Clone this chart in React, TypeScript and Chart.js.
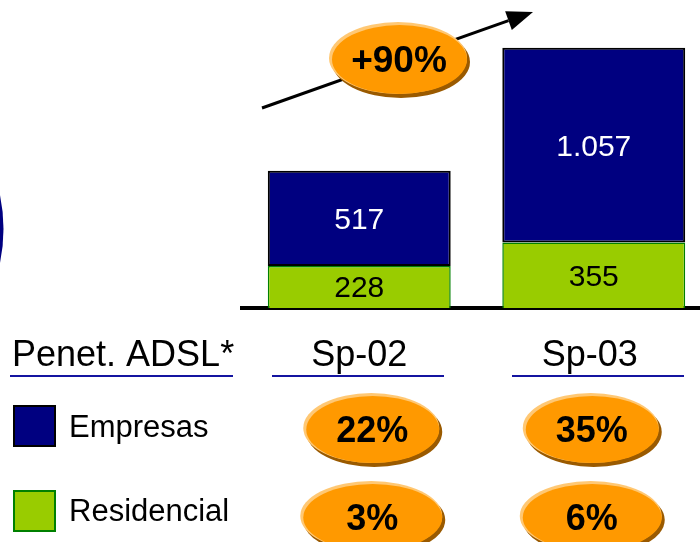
import { useEffect, useRef } from 'react';
import { Chart, registerables } from 'chart.js';

Chart.register(...registerables);

// ADSL lines by segment (thousands), stacked per period
const periods = ['Sp-02', 'Sp-03'];
const residencial = [228, 355];
const empresas = [517, 1057];

// ADSL penetration by segment (%)
const penetEmpresas = [22, 35];
const penetResidencial = [3, 6];

const penetTitle = 'Penet. ADSL*';
const seriesNames = ['Empresas', 'Residencial'];

const NAVY = '#000080';
const LIME = '#99CC00';
const LIME_EDGE = '#008000';
const ORANGE = '#FF9900';
const RULE = '#1414A0';
const FONT = "'Liberation Sans', Arial, Helvetica, sans-serif";

const fmtThousands = (v: number) =>
  String(v).replace(/\B(?=(\d{3})+(?!\d))/g, '.');

function ellipsePath(ctx: CanvasRenderingContext2D, cx: number, cy: number, rx: number, ry: number) {
  ctx.beginPath();
  ctx.ellipse(cx, cy, rx, ry, 0, 0, Math.PI * 2);
  ctx.closePath();
}

// Orange bevelled oval with a bold label
function drawBadge(
  ctx: CanvasRenderingContext2D,
  cx: number,
  cy: number,
  rx: number,
  ry: number,
  text: string,
  size: number
) {
  ctx.save();
  ctx.fillStyle = '#9A5A00';
  ellipsePath(ctx, cx + 2, cy + 3, rx, ry);
  ctx.fill();
  ctx.fillStyle = '#FFC874';
  ellipsePath(ctx, cx - 1, cy - 1, rx, ry);
  ctx.fill();
  ctx.fillStyle = ORANGE;
  ellipsePath(ctx, cx + 0.5, cy + 0.5, rx - 1.5, ry - 1.5);
  ctx.fill();
  ctx.fillStyle = '#000';
  ctx.font = `bold ${size}px ${FONT}`;
  ctx.textAlign = 'center';
  ctx.textBaseline = 'alphabetic';
  ctx.fillText(text, cx, cy + size * 0.36);
  ctx.restore();
}

const overlayPlugin = {
  id: 'adslOverlay',
  afterDatasetsDraw(chart: any) {
    const ctx: CanvasRenderingContext2D = chart.ctx;
    // values inside each stacked segment
    chart.data.datasets.forEach((ds: any, di: number) => {
      const meta = chart.getDatasetMeta(di);
      meta.data.forEach((el: any, i: number) => {
        const { x, y, base } = el.getProps(['x', 'y', 'base'], true);
        const cy = (y + base) / 2;
        ctx.save();
        ctx.font = `30px ${FONT}`;
        ctx.textAlign = 'center';
        ctx.textBaseline = 'alphabetic';
        ctx.fillStyle = ds.labelColor;
        ctx.fillText(fmtThousands(ds.data[i]), x, cy + 10.5);
        ctx.restore();
      });
    });
  },
  afterDraw(chart: any) {
    const ctx: CanvasRenderingContext2D = chart.ctx;
    const xs = chart.scales.x;
    const colX = periods.map((_, i) => xs.getPixelForValue(i));

    ctx.save();

    // partial navy shape at the left edge
    ctx.fillStyle = NAVY;
    ctx.beginPath();
    ctx.moveTo(0, 195);
    ctx.quadraticCurveTo(7, 229, 0, 263);
    ctx.closePath();
    ctx.fill();

    // growth arrow
    const x0 = 262, y0 = 108, x1 = 533, y1 = 12;
    const ang = Math.atan2(y1 - y0, x1 - x0);
    const headLen = 26, headW = 10;
    const bx = x1 - headLen * Math.cos(ang);
    const by = y1 - headLen * Math.sin(ang);
    ctx.strokeStyle = '#000';
    ctx.lineWidth = 3;
    ctx.beginPath();
    ctx.moveTo(x0, y0);
    ctx.lineTo(bx, by);
    ctx.stroke();
    ctx.fillStyle = '#000';
    ctx.beginPath();
    ctx.moveTo(x1, y1);
    ctx.lineTo(bx + headW * Math.sin(ang), by - headW * Math.cos(ang));
    ctx.lineTo(bx - headW * Math.sin(ang), by + headW * Math.cos(ang));
    ctx.closePath();
    ctx.fill();

    const totalA = residencial[0] + empresas[0];
    const totalB = residencial[1] + empresas[1];
    const growth = Math.round((totalB / totalA - 1) * 100);
    drawBadge(ctx, 399, 59, 69, 36, `+${growth}%`, 37);

    // table header
    ctx.fillStyle = '#000';
    ctx.font = `36px ${FONT}`;
    ctx.textBaseline = 'alphabetic';
    ctx.textAlign = 'left';
    ctx.fillText(penetTitle, 12, 366);
    ctx.textAlign = 'center';
    periods.forEach((p, i) => ctx.fillText(p, colX[i] - (i === 1 ? 4 : 0), 366));

    ctx.strokeStyle = RULE;
    ctx.lineWidth = 2;
    const rules: [number, number][] = [[10, 233], [272, 444], [512, 684]];
    rules.forEach(([a, b]) => {
      ctx.beginPath();
      ctx.moveTo(a, 376);
      ctx.lineTo(b, 376);
      ctx.stroke();
    });

    // legend rows
    const swatches = [
      { fill: NAVY, edge: '#000', y: 405, base: 437 },
      { fill: LIME, edge: LIME_EDGE, y: 490, base: 521 },
    ];
    swatches.forEach((s, i) => {
      ctx.fillStyle = s.fill;
      ctx.fillRect(13, s.y, 43, 42);
      ctx.strokeStyle = s.edge;
      ctx.lineWidth = 2;
      ctx.strokeRect(14, s.y + 1, 41, 40);
      ctx.fillStyle = '#000';
      ctx.font = `31px ${FONT}`;
      ctx.textAlign = 'left';
      ctx.fillText(seriesNames[i], 69, s.base);
    });

    // penetration ovals
    const nudge = [13, -2];
    penetEmpresas.forEach((v, i) => {
      drawBadge(ctx, colX[i] + nudge[i], 429, 68, 35, `${v}%`, 36);
    });
    penetResidencial.forEach((v, i) => {
      drawBadge(ctx, colX[i] + nudge[i], 517, 71, 35, `${v}%`, 36);
    });

    ctx.restore();
  },
};

export default function App() {
  const ref = useRef<HTMLCanvasElement | null>(null);

  useEffect(() => {
    if (!ref.current) return;
    const chart = new Chart(ref.current, {
      type: 'bar',
      data: {
        labels: periods,
        datasets: [
          {
            label: seriesNames[1],
            data: residencial,
            backgroundColor: LIME,
            borderColor: LIME_EDGE,
            borderWidth: 1.5,
            borderSkipped: 'bottom',
            labelColor: '#000',
          } as any,
          {
            label: seriesNames[0],
            data: empresas,
            backgroundColor: NAVY,
            borderColor: '#000',
            borderWidth: 2,
            borderSkipped: false,
            labelColor: '#fff',
          } as any,
        ],
      },
      options: {
        responsive: false,
        animation: false,
        events: [],
        datasets: {
          bar: { categoryPercentage: 1, barPercentage: 0.78 },
        },
        layout: { padding: { left: 242, right: 9, top: 13, bottom: 234 } },
        plugins: {
          legend: { display: false },
          tooltip: { enabled: false },
        },
        scales: {
          x: {
            stacked: true,
            z: 1,
            grid: { display: false, drawTicks: false },
            border: { display: true, color: '#000', width: 4 },
            ticks: { display: false },
          },
          y: {
            stacked: true,
            display: false,
            min: 0,
            max: 1600,
          },
        },
      },
      plugins: [overlayPlugin],
    });
    return () => chart.destroy();
  }, []);

  return (
    <div
      style={{
        position: 'fixed',
        left: 0,
        top: 0,
        width: 700,
        height: 542,
        overflow: 'hidden',
        background: '#fff',
      }}
    >
      <canvas ref={ref} width={720} height={542} style={{ display: 'block' }} />
    </div>
  );
}
